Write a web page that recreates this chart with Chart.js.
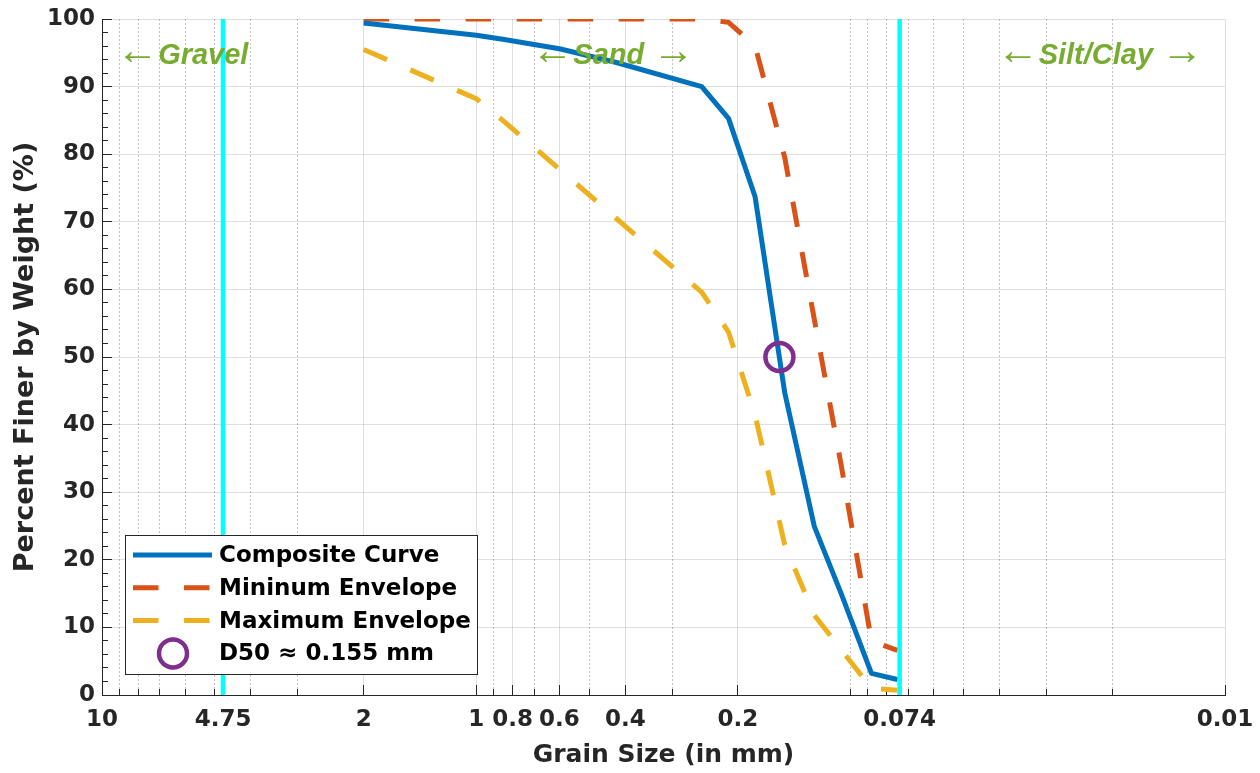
<!DOCTYPE html>
<html>
<head>
<meta charset="utf-8">
<title>Grain Size Distribution</title>
<script src="https://cdn.jsdelivr.net/npm/chart.js@4/dist/chart.umd.min.js"></script>
<style>
  html, body { margin: 0; padding: 0; background: #fff; }
</style>
</head>
<body>
<canvas id="gradationChart" width="1260" height="773"></canvas>
<script>
// sieve openings (mm) and percent passing
const sieveSizes = [2, 1, 0.85, 0.6, 0.425, 0.25, 0.212, 0.18, 0.15, 0.125, 0.106, 0.088, 0.075];
const compositePassing = [99.4, 97.6, 97.0, 95.6, 93.6, 90.0, 85.3, 73.7, 44.7, 24.9, 15.0, 3.2, 2.3];
const minEnvelopePassing = [100, 100, 100, 100, 100, 100, 99.5, 96.0, 79.5, 55.5, 34.0, 8.0, 6.6];
const maxEnvelopePassing = [95.5, 88.2, 85.0, 77.8, 70.6, 59.6, 53.7, 41.4, 22.2, 11.8, 6.7, 1.0, 0.7];

const d50Size = [0.155];
const d50Passing = [50];

// soil class boundaries (mm)
const gravelSandLimit = 4.75;
const sandFinesLimit = 0.074;

const xTickValues = [10, 4.75, 2, 1, 0.8, 0.6, 0.4, 0.2, 0.074, 0.01];
const xTickLabels = ['10', '4.75', '2', '1', '0.8', '0.6', '0.4', '0.2', '0.074', '0.01'];
const xMinorTicks = [9, 8, 7, 6, 5, 4, 3, 0.9, 0.7, 0.5, 0.3, 0.1, 0.09, 0.08, 0.07, 0.06, 0.05, 0.04, 0.03, 0.02];

const zoneNames = ['Gravel', 'Sand', 'Silt/Clay'];
const zoneX = [9, 0.7, 0.04];
const zoneRightArrow = [false, true, true];
const zoneY = 94.5;

const axisColor = '#262626';
const gridColor = 'rgba(38,38,38,0.15)';
const minorGridColor = 'rgba(38,38,38,0.28)';
const zoneColor = '#77AC30';

function toPoints(xs, ys) {
    return xs.map(function(x, i) { return { x: x, y: ys[i] }; });
}

const zoneLabelsPlugin = {
    id: 'zoneLabels',
    afterDatasetsDraw: function(chart) {
        const ctx = chart.ctx;
        const xs = chart.scales.x;
        const ys = chart.scales.y;
        ctx.save();
        ctx.fillStyle = zoneColor;
        ctx.textBaseline = 'middle';
        ctx.textAlign = 'left';
        zoneNames.forEach(function(name, i) {
            let px = xs.getPixelForValue(zoneX[i]);
            const py = ys.getPixelForValue(zoneY);
            ctx.font = '42px "Liberation Sans"';
            ctx.fillText('\u2190', px - 3, py - 4);
            px += 39;
            ctx.font = 'italic bold 29px "Liberation Sans"';
            ctx.fillText(name, px, py);
            if (zoneRightArrow[i]) {
                px += ctx.measureText(name).width + 8;
                ctx.font = '42px "Liberation Sans"';
                ctx.fillText('\u2192', px, py - 4);
            }
        });
        ctx.restore();
    }
};

const legendBoxPlugin = {
    id: 'legendBox',
    afterDatasetsDraw: function(chart) {
        const ctx = chart.ctx;
        const area = chart.chartArea;
        const width = 352, height = 139;
        const left = Math.round(area.left + 23);
        const top = Math.round(area.bottom - 21 - height);
        ctx.save();
        ctx.fillStyle = '#fff';
        ctx.fillRect(left, top, width, height);
        ctx.strokeStyle = axisColor;
        ctx.lineWidth = 1;
        ctx.strokeRect(left + 0.5, top + 0.5, width, height);

        const items = chart.data.datasets.filter(function(ds) { return ds.inLegend; });
        items.forEach(function(ds, i) {
            const cy = top + 20 + i * 32.8;
            if (ds.showLine) {
                ctx.beginPath();
                ctx.setLineDash(ds.borderDash || []);
                ctx.strokeStyle = ds.borderColor;
                ctx.lineWidth = ds.borderWidth;
                ctx.moveTo(left + 8, cy);
                ctx.lineTo(left + 87, cy);
                ctx.stroke();
                ctx.setLineDash([]);
            } else {
                ctx.beginPath();
                ctx.strokeStyle = ds.pointBorderColor;
                ctx.lineWidth = ds.pointBorderWidth;
                ctx.arc(left + 48, cy, ds.pointRadius, 0, Math.PI * 2);
                ctx.stroke();
            }
            ctx.fillStyle = '#000';
            ctx.font = 'bold 23px "DejaVu Sans"';
            ctx.textBaseline = 'middle';
            ctx.textAlign = 'left';
            ctx.fillText(ds.label, left + 94, cy + 1);
        });
        ctx.restore();
    }
};

Chart.defaults.font.family = '"DejaVu Sans"';

const ctx = document.getElementById('gradationChart').getContext('2d');
const gradationChart = new Chart(ctx, {
    type: 'scatter',
    data: {
        datasets: [{
            label: 'Composite Curve',
            inLegend: true,
            data: toPoints(sieveSizes, compositePassing),
            showLine: true,
            borderColor: '#0072BD',
            borderWidth: 5,
            borderJoinStyle: 'round',
            pointRadius: 0,
            order: 2
        }, {
            label: 'Mininum Envelope',
            inLegend: true,
            data: toPoints(sieveSizes, minEnvelopePassing),
            showLine: true,
            borderColor: '#D95319',
            borderWidth: 5,
            borderDash: [25.5, 25.5],
            pointRadius: 0,
            order: 3
        }, {
            label: 'Maximum Envelope',
            inLegend: true,
            data: toPoints(sieveSizes, maxEnvelopePassing),
            showLine: true,
            borderColor: '#EDB120',
            borderWidth: 5,
            borderDash: [25.5, 25.5],
            pointRadius: 0,
            order: 4
        }, {
            label: 'D50 \u2248 0.155 mm',
            inLegend: true,
            data: toPoints(d50Size, d50Passing),
            showLine: false,
            pointStyle: 'circle',
            pointRadius: 14,
            pointBorderWidth: 4.5,
            pointBorderColor: '#7E2F8E',
            pointBackgroundColor: 'rgba(0,0,0,0)',
            borderColor: '#7E2F8E',
            order: 1
        }, {
            label: 'Gravel/Sand',
            data: toPoints([gravelSandLimit, gravelSandLimit], [0, 100]),
            showLine: true,
            borderColor: '#00FFFF',
            borderWidth: 4.5,
            pointRadius: 0,
            order: 0
        }, {
            label: 'Sand/Fines',
            data: toPoints([sandFinesLimit, sandFinesLimit], [0, 100]),
            showLine: true,
            borderColor: '#00FFFF',
            borderWidth: 4.5,
            pointRadius: 0,
            order: 0
        }]
    },
    options: {
        responsive: false,
        animation: false,
        layout: {
            padding: { top: 19, right: 35, bottom: 0, left: 0 }
        },
        plugins: {
            legend: { display: false },
            tooltip: { enabled: false }
        },
        scales: {
            x: {
                type: 'logarithmic',
                position: 'bottom',
                reverse: true,
                min: 0.01,
                max: 10,
                weight: 1,
                afterBuildTicks: function(scale) {
                    scale.ticks = xTickValues.map(function(v) { return { value: v }; });
                },
                afterFit: function(scale) {
                    // labels may hang past the ends, the page margins cover them
                    scale.height = 78;
                    scale.paddingLeft = 0;
                    scale.paddingRight = 0;
                },
                grid: {
                    color: gridColor,
                    lineWidth: 1,
                    tickColor: axisColor,
                    tickLength: -10,
                    tickWidth: 1
                },
                border: { color: axisColor, width: 1 },
                ticks: {
                    autoSkip: false,
                    maxRotation: 0,
                    minRotation: 0,
                    color: axisColor,
                    padding: 21,
                    font: { size: 23, weight: 'bold' },
                    callback: function(value, index) {
                        return xTickLabels[index];
                    }
                },
                title: {
                    display: true,
                    text: 'Grain Size (in mm)',
                    color: axisColor,
                    font: { size: 25, weight: 'bold' },
                    padding: { top: 0, bottom: 3 }
                }
            },
            xMinor: {
                type: 'logarithmic',
                position: 'bottom',
                reverse: true,
                min: 0.01,
                max: 10,
                weight: 0,
                afterBuildTicks: function(scale) {
                    scale.ticks = xMinorTicks.map(function(v) { return { value: v }; });
                },
                afterFit: function(scale) {
                    scale.height = 0;
                },
                grid: {
                    color: minorGridColor,
                    lineWidth: 1,
                    tickColor: axisColor,
                    tickLength: -6,
                    tickWidth: 1
                },
                border: { display: false, dash: [2, 2] },
                ticks: { display: false, autoSkip: false }
            },
            y: {
                type: 'linear',
                position: 'left',
                min: 0,
                max: 100,
                weight: 1,
                afterFit: function(scale) {
                    scale.width = 102;
                    scale.paddingTop = 0;
                    scale.paddingBottom = 0;
                },
                grid: {
                    color: gridColor,
                    lineWidth: 1,
                    tickColor: axisColor,
                    tickLength: -10,
                    tickWidth: 1
                },
                border: { color: axisColor, width: 1 },
                ticks: {
                    stepSize: 10,
                    color: axisColor,
                    padding: 17,
                    font: { size: 23, weight: 'bold' }
                },
                title: {
                    display: true,
                    text: 'Percent Finer by Weight (%)',
                    color: axisColor,
                    font: { size: 27, weight: 'bold' },
                    padding: { top: 10, bottom: 0 }
                }
            },
            yMinor: {
                type: 'linear',
                position: 'left',
                min: 0,
                max: 100,
                weight: 0,
                afterFit: function(scale) {
                    scale.width = 0;
                },
                grid: {
                    drawOnChartArea: false,
                    tickColor: axisColor,
                    tickLength: -6,
                    tickWidth: 1
                },
                border: { display: false },
                ticks: { display: false, stepSize: 2 }
            }
        }
    },
    plugins: [zoneLabelsPlugin, legendBoxPlugin]
});
</script>
</body>
</html>
